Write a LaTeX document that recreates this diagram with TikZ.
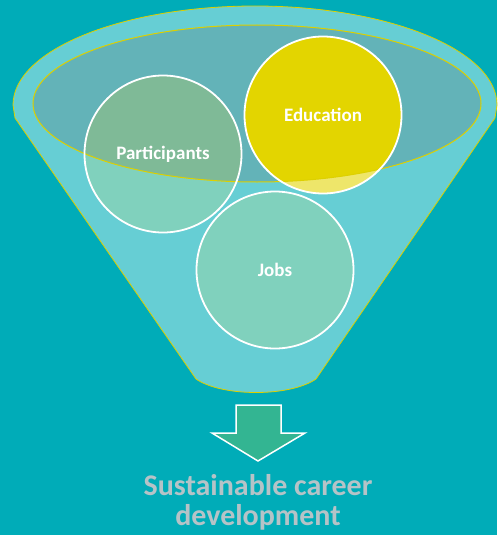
\documentclass[tikz,border=0pt]{standalone}
\usepackage{fontspec}
\setmainfont{Carlito}
\definecolor{bgteal}{HTML}{00ACB8}
\definecolor{funnelcyan}{HTML}{66CED4}
\definecolor{funnelyellow}{HTML}{DDD000}
\definecolor{innerteal}{HTML}{63B3B8}
\definecolor{mint}{HTML}{80D1BD}
\definecolor{mintdark}{HTML}{7FBA97}
\definecolor{eduyellow}{HTML}{E3D500}
\definecolor{edupale}{HTML}{EEE66A}
\definecolor{arrowgreen}{HTML}{33B592}
\definecolor{captiongray}{HTML}{B5C3C7}

\begin{document}
\begin{tikzpicture}[x=1pt,y=-1pt,
  bubble/.style={circle,draw=white,line width=1.8pt,minimum size=157pt,inner sep=0pt,
    text=white,font=\bfseries\fontsize{19}{19}\selectfont},
  caption/.style={anchor=base,text=captiongray,font=\bfseries\fontsize{30}{30}\selectfont}]
  \fill[bgteal] (0,0) rectangle (497,535);

  % funnel
  \draw[funnelyellow,fill=funnelcyan,line width=0.8pt]
    (13,105) .. controls (13,50.3) and (121.3,6) .. (255,6)
    .. controls (388.7,6) and (497,50.3) .. (497,105) -- (495,118) -- (316,379)
    .. controls (290,397) and (222,397) .. (196,379) -- (15,118) -- cycle;
  \fill[innerteal] (257,103.5) ellipse[x radius=224pt,y radius=78.5pt];

  % circles
  \coordinate (partc) at (163,154);
  \coordinate (educ) at (323,115);
  \coordinate (jobsc) at (275,270);
  \fill[mint] (partc) circle[radius=78.5pt];
  \fill[edupale] (educ) circle[radius=78.5pt];
  \fill[mint] (jobsc) circle[radius=78.5pt];
  \begin{scope}
    \clip (257,103.5) ellipse[x radius=224pt,y radius=78.5pt];
    \fill[mintdark] (partc) circle[radius=78.5pt];
    \fill[eduyellow] (educ) circle[radius=78.5pt];
  \end{scope}
  \draw[funnelyellow,line width=1pt] (257,103.5) ellipse[x radius=224pt,y radius=78.5pt];

  \node[bubble] (part) at (partc) {Participants};
  \node[bubble] (edu) at (educ) {Education};
  \node[bubble] (jobs) at (jobsc) {Jobs};

  % arrow
  \draw[white,fill=arrowgreen,line width=1.5pt,line join=miter]
    (236,405) -- (281,405) -- (281,433) -- (305,433) -- (258,461)
    -- (212,433) -- (236,433) -- cycle;

  \node[caption] (sus) at (258,495) {Sustainable career};
  \node[caption] (dev) at (258,525) {development};
\end{tikzpicture}
\end{document}
